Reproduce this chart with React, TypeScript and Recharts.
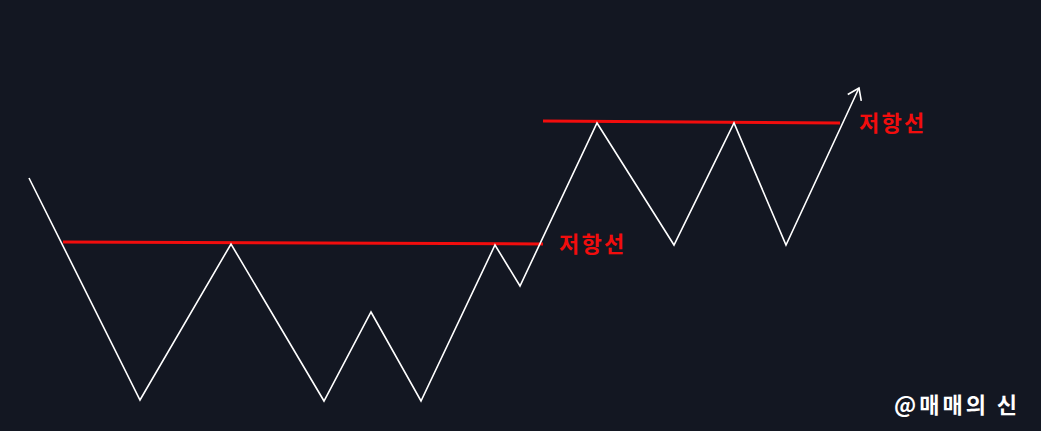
import { LineChart, Line, XAxis, YAxis, ReferenceDot } from "recharts";

const W = 1041;
const H = 431;

// zigzag price path (x = bar position, y = price level)
const pathX = [29, 140, 231, 324, 371, 421, 495, 520, 597, 674, 734, 786, 859];
const pathY = [253, 31, 187, 30, 119, 30, 186, 145, 308, 186, 308, 186, 343];

// resistance lines
const res1X = [63, 543];
const res1Y = [189, 187];
const res2X = [543, 840];
const res2Y = [310, 308];

const labelText = "저항선";
const watermark = "@매매의 신";

const toRows = (xs: number[], ys: number[]) => xs.map((x, i) => ({ x, y: ys[i] }));

const pathData = toRows(pathX, pathY);
const res1Data = toRows(res1X, res1Y);
const res2Data = toRows(res2X, res2Y);

const RED = "#f20d0d";

function ArrowDot(props: any) {
  const { cx, cy, index, points } = props;
  if (index !== pathX.length - 1 || cx == null) return <g key={`d${index}`} />;
  let dx = 73;
  let dy = -157;
  if (points && points.length > 1) {
    const p = points[points.length - 2];
    dx = cx - p.x;
    dy = cy - p.y;
  }
  const len = Math.hypot(dx, dy);
  const ux = dx / len;
  const uy = dy / len;
  const a = (35 * Math.PI) / 180;
  const L = 13;
  const arm = (s: number) => {
    const c = Math.cos(s * a);
    const sn = Math.sin(s * a);
    const rx = -(ux * c - uy * sn);
    const ry = -(ux * sn + uy * c);
    return `${cx + rx * L},${cy + ry * L}`;
  };
  return (
    <polyline
      key="arrow"
      points={`${arm(1)} ${cx},${cy} ${arm(-1)}`}
      fill="none"
      stroke="#ffffff"
      strokeWidth={1.6}
    />
  );
}

const labelStyle = {
  fill: RED,
  fontSize: 22,
  fontWeight: 700,
  letterSpacing: 2.2,
  fontFamily: "'Noto Sans CJK KR', sans-serif",
};

export default function App() {
  return (
    <div
      style={{
        position: "fixed",
        left: 0,
        top: 0,
        width: W,
        height: H,
        background: "#131722",
        overflow: "hidden",
      }}
    >
      <LineChart width={W} height={H} margin={{ top: 0, right: 0, bottom: 0, left: 0 }}>
        <XAxis type="number" dataKey="x" domain={[0, W]} hide allowDuplicatedCategory={false} />
        <YAxis type="number" dataKey="y" domain={[0, H]} hide />
        <Line
          data={res1Data}
          dataKey="y"
          stroke={RED}
          strokeWidth={3}
          dot={false}
          isAnimationActive={false}
        />
        <Line
          data={res2Data}
          dataKey="y"
          stroke={RED}
          strokeWidth={3}
          dot={false}
          isAnimationActive={false}
        />
        <Line
          data={pathData}
          dataKey="y"
          type="linear"
          stroke="#ffffff"
          strokeWidth={1.6}
          dot={ArrowDot}
          activeDot={false}
          isAnimationActive={false}
        />
        <ReferenceDot
          x={res1X[1]}
          y={res1Y[1]}
          r={0}
          fill="none"
          stroke="none"
          label={{ value: labelText, position: "right", offset: 16, ...labelStyle }}
        />
        <ReferenceDot
          x={res2X[1]}
          y={res2Y[1]}
          r={0}
          fill="none"
          stroke="none"
          label={{ value: labelText, position: "right", offset: 19, ...labelStyle }}
        />
      </LineChart>
      <div
        style={{
          position: "absolute",
          left: 894,
          top: 388,
          color: "#ffffff",
          fontSize: 22,
          fontWeight: 700,
          letterSpacing: 3,
          fontFamily: "'Noto Sans CJK KR', sans-serif",
          whiteSpace: "nowrap",
          lineHeight: "30px",
        }}
      >
        {watermark}
      </div>
    </div>
  );
}
